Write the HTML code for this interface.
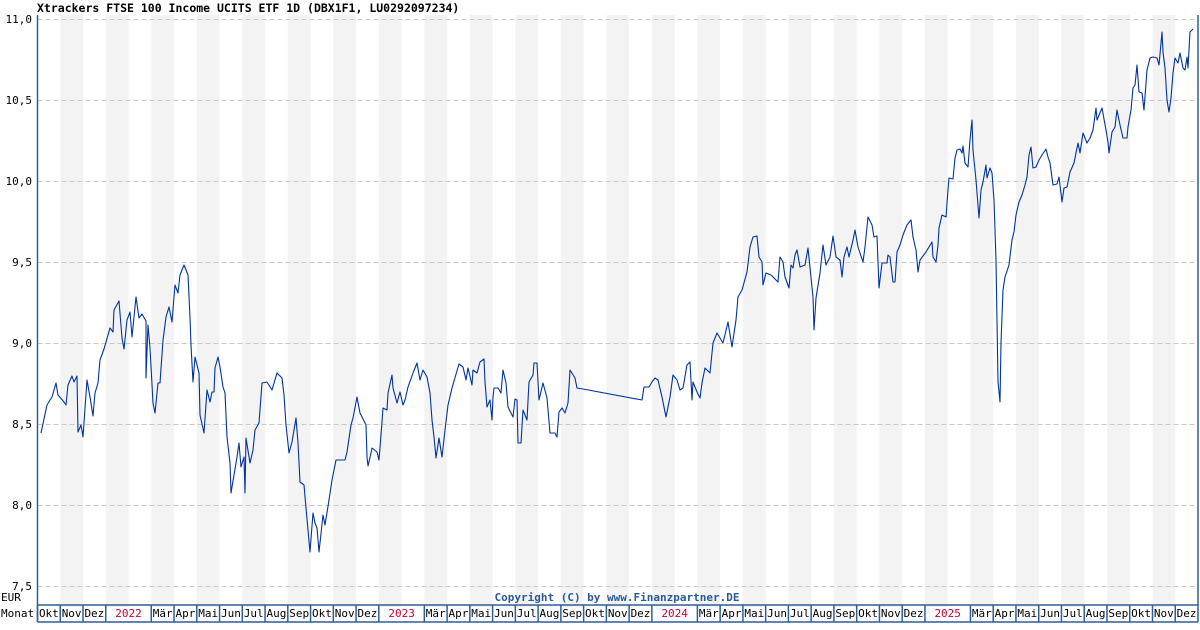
<!DOCTYPE html>
<html><head><meta charset="utf-8"><style>
html,body{margin:0;padding:0;background:#fff}
svg{display:block}
text{font-family:"DejaVu Sans Mono","Liberation Mono",monospace}
</style></head><body>
<svg id="s" width="1200" height="630" viewBox="0 0 1200 630" xmlns="http://www.w3.org/2000/svg">
<rect width="1200" height="630" fill="#fff"/>
<g id="bands"></g>
<g id="grid" stroke="#c8c8c8" stroke-width="1" stroke-dasharray="5,3"></g>
<g id="axis"></g>
<text x="37" y="12" font-size="11.5" font-weight="bold" fill="#000">Xtrackers FTSE 100 Income UCITS ETF 1D (DBX1F1, LU0292097234)</text>
<g font-size="11" fill="#000" text-anchor="end">
<text x="32" y="23">11,0</text><text x="32" y="104">10,5</text><text x="32" y="185">10,0</text>
<text x="32" y="266">9,5</text><text x="32" y="347">9,0</text><text x="32" y="509">8,0</text>
<text x="32" y="428">8,5</text><text x="32" y="590">7,5</text>
</g>
<text x="1" y="601" font-size="11" fill="#000">EUR</text>
<text x="1" y="617" font-size="11" fill="#000">Monat</text>
<text x="617" y="601" font-size="11" font-weight="bold" fill="#2a5a9a" text-anchor="middle">Copyright (C) by www.Finanzpartner.DE</text>
<polyline fill="none" stroke="#0033a0" stroke-width="1.1" stroke-linejoin="round" points="
41,433 47,405 52,397 56,383 58,395 64,402 66,405 68,385 72,376 74,382 77,376 78,432 81,425 83,437 87,380 90,397 93,416 95,393 98,383 100,360 104,349 110,328 113,332 114,310 119,301 122,338 124,349 127,320 130,312 132,337 136,297 139,318 142,314 146,321 146,378 148,325 150,348 153,403 155,413 158,383 160,383 163,340 166,317 169,307 172,322 175,285 178,293 180,275 184,265 188,275 190,318 191,345 193,382 195,357 199,373 200,415 204,433 207,390 210,402 212,392 214,392 215,368 218,357 220,367 223,387 225,393 227,437 230,463 231,493 234,475 237,457 239,443 241,467 244,457 245,493 246,438 250,463 253,450 255,430 259,423 262,383 267,382 272,390 277,373 282,378 284,395 286,425 289,453 292,442 296,418 298,443 300,482 304,485 306,508 310,552 313,513 315,523 317,528 319,552 323,515 325,525 329,500 332,480 336,460
345,460 347,452 351,425 353,418 357,397 360,413 366,425 367,457 368,466 371,453 372,448 377,452 379,460 382,422 383,408 387,410 388,393 392,375 393,388 397,403 400,392 403,405 405,400 408,387 413,373 417,363 420,380 423,370 427,377 430,393 432,420 434,437 436,458 439,438 442,457 445,430 448,405 452,388 459,364 463,367 466,380 468,368 472,385 473,370 477,373 480,362 484,359 485,382 487,407 490,400 492,420 493,397 494,388 498,388 501,393 503,370 506,383 508,407 513,417 515,399 517,400 518,443 521,443 523,410 527,420 529,382 533,375 534,363 537,363 539,400 543,383 547,398 550,433 555,433 557,437 559,412 562,408 565,413 568,403 570,370 575,378 577,388 583,389 642,400 644,387 649,387 652,382 655,378 658,380 662,397 666,417 670,397 673,375 677,380 680,390 683,388 687,365 690,362 692,400 693,382 697,392 700,398 702,383 705,368 710,373 713,343 717,333 723,343 728,322 732,347 736,320 738,297 742,290 747,272 750,247
753,237 757,236 759,257 762,262 763,285 766,273 771,275 773,277 778,282 780,257 783,262 785,277 789,288 791,265 793,268 795,255 797,250 800,267 805,265 808,248 813,297 814,330 816,298 820,273 823,245 826,265 830,257 833,236 836,257 840,260 842,277 844,257 847,247 849,257 853,240 855,230 858,247 863,262 865,247 868,217 872,225 874,237 877,236 879,288 882,263 887,263 888,255 890,257 893,282 895,282 897,252 900,245 903,235 907,225 911,220 913,237 916,250 918,272 920,260 926,252 932,242 933,257 936,262 938,245 939,228 942,215 946,217 948,190 949,178 953,179 955,158 957,150 960,149 962,153 963,146 965,163 968,167 970,140 972,120 973,150 976,180 979,218 981,190 983,182 986,165 987,178 990,168 992,173 994,200 996,260 998,382 1000,402 1001,343 1003,290 1005,277 1009,265 1012,240 1014,232 1016,215 1019,202
1022,195 1025,185 1027,177 1029,155 1031,147 1033,168 1036,167 1039,160 1042,155 1046,149 1048,157 1050,163 1053,185 1057,184 1059,177 1062,202 1064,188 1067,187 1070,172 1074,163 1078,143 1080,153 1083,133 1087,143 1090,138 1093,130 1096,108 1097,120 1102,108 1106,130 1108,142 1109,153 1112,132 1115,127 1117,110 1120,125 1123,138 1127,138 1128,127 1131,110 1133,88 1135,85 1137,65 1139,92 1142,93 1144,110 1147,70 1150,58 1153,57 1157,58 1159,65 1162,32 1163,52 1165,68 1167,100 1169,112 1171,98 1173,73 1175,58 1178,63 1180,53 1183,68 1185,70 1187,57 1188,68 1190,32 1193,29"/>
</svg>
<script>
(function(){
var ns="http://www.w3.org/2000/svg";
function el(p,t,a,txt){var e=document.createElementNS(ns,t);for(var k in a)e.setAttribute(k,a[k]);if(txt)e.textContent=txt;p.appendChild(e);return e;}
var L=37.5,R=1198,N=51,w=(R-L)/N;
var bands=document.getElementById('bands'),grid=document.getElementById('grid'),ax=document.getElementById('axis');
var names=["Jan","Feb","Mär","Apr","Mai","Jun","Jul","Aug","Sep","Okt","Nov","Dez"];
for(var i=0;i<N;i++){
  if(i%2==1){el(bands,'rect',{x:L+i*w,y:15,width:w,height:607-15,fill:'#f3f3f3'});}
}
[19,100,181,262,343,424,505,586].forEach(function(y){el(grid,'line',{x1:L,x2:R,y1:y+0.5,y2:y+0.5});});
// axis row
var st='#2f5f95';
el(ax,'line',{x1:L,x2:L,y1:15,y2:622,stroke:st,'stroke-width':1.5});
el(ax,'line',{x1:R,x2:R,y1:15,y2:622,stroke:st,'stroke-width':1.5});
el(ax,'line',{x1:L,x2:R,y1:605,y2:605,stroke:st,'stroke-width':1.5});
el(ax,'line',{x1:L,x2:R,y1:622,y2:622,stroke:st,'stroke-width':1.5});
for(var i=0;i<N;i++){
  var m=(9+i)%12, yr=2021+Math.floor((9+i)/12);
  if(m==1)continue;
  var x0=L+i*w, x1=x0+(m==0?2*w:w);
  el(ax,'line',{x1:x0,x2:x0,y1:605,y2:622,stroke:st,'stroke-width':1.5});
  var lab=m==0?String(yr):names[m];
  el(ax,'text',{x:(x0+x1)/2,y:617,'font-size':11,'text-anchor':'middle',fill:m==0?'#c8003c':'#000'},lab);
}
})();
</script>
</body></html>
